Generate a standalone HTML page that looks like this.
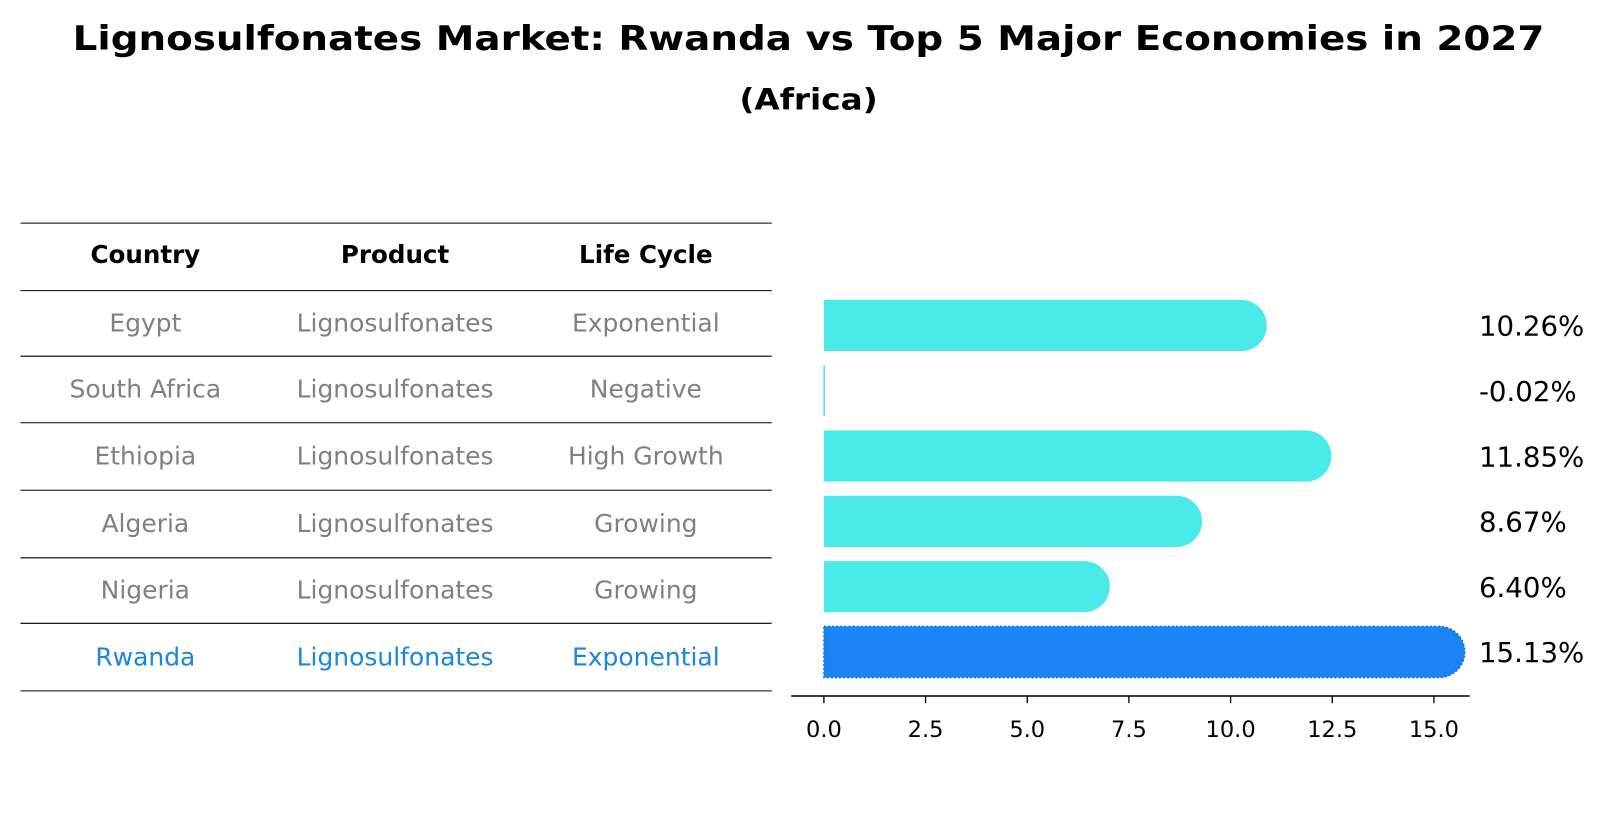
<!DOCTYPE html>
<html><head><meta charset="utf-8"><style>
body{margin:0;background:#fff;font-family:"DejaVu Sans","Liberation Sans",sans-serif;}
#wrap{position:relative;width:1604px;height:823px;overflow:hidden;}
</style></head><body>
<div id="wrap">
<svg id="svg" width="1604" height="823" xmlns="http://www.w3.org/2000/svg" font-family="DejaVu Sans, Liberation Sans, sans-serif">
<g transform="scale(1.0235)">
<text x="790" y="49" text-anchor="middle" font-size="33" font-weight="bold" textLength="1438" lengthAdjust="spacingAndGlyphs">Lignosulfonates Market: Rwanda vs Top 5 Major Economies in 2027</text>
<text x="790" y="107" text-anchor="middle" font-size="29" font-weight="bold" textLength="135" lengthAdjust="spacingAndGlyphs">(Africa)</text>
<g id="table"></g>
<g id="bars"></g>
</g>
</svg>
</div>
<script>
const countries=["Egypt","South Africa","Ethiopia","Algeria","Nigeria","Rwanda"];
const products=["Lignosulfonates","Lignosulfonates","Lignosulfonates","Lignosulfonates","Lignosulfonates","Lignosulfonates"];
const lifeCycles=["Exponential","Negative","High Growth","Growing","Growing","Exponential"];
const values=[10.26,-0.02,11.85,8.67,6.40,15.13];
const valueLabels=["10.26%","-0.02%","11.85%","8.67%","6.40%","15.13%"];
const ticks=[0,2.5,5,7.5,10,12.5,15];
const tickLabels=["0.0","2.5","5.0","7.5","10.0","12.5","15.0"];
const NS="http://www.w3.org/2000/svg";
function mk(tag,attrs,parent,text){const e=document.createElementNS(NS,tag);for(const k in attrs)e.setAttribute(k,attrs[k]);if(text!==undefined)e.textContent=text;parent.appendChild(e);return e;}
const tb=document.getElementById('table');
const lineYs=[218,284,348,413,479,545,609,675];
lineYs.forEach(y=>{const l=mk('line',{x1:20,x2:754,y1:y,y2:y,stroke:'#000','stroke-width':1},tb);

});
const colX=[142,386,631];
["Country","Product","Life Cycle"].forEach((h,i)=>{const t=mk('text',{x:colX[i],y:257,'text-anchor':'middle','font-size':24,'font-weight':'bold'},tb,h);

});
countries.forEach((c,r)=>{const y=(lineYs[r+1]+lineYs[r+2])/2+8;const col=r===5?'#1a86e0':'#808080';
[c,products[r],lifeCycles[r]].forEach((v,i)=>{const t=mk('text',{x:colX[i],y:y,'text-anchor':'middle','font-size':24.4,fill:col},tb,v);

});});
const bg=document.getElementById('bars');
const x0=805,pxPer=(1401-805)/15;
const xs=v=>x0+v*pxPer;
const rowY=r=>318+r*63.8;
const h=50;
values.forEach((v,r)=>{const cy=rowY(r);const xe=xs(Math.max(v,0));const isR=r===5;const fill=isR?'#1a84f5':'#4aeaea';
const g=mk('g',{},bg);


if(v>0.05){
mk('path',{d:`M${x0},${cy-h/2} H${xe} A${h/2},${h/2} 0 0 1 ${xe},${cy+h/2} H${x0} Z`,fill:fill,stroke:isR?'#1a6fd0':'none','stroke-width':isR?1.5:0,'stroke-dasharray':isR?'2,2':''},g);
}else{mk('rect',{x:x0-0.5,y:cy-h/2,width:1.5,height:h,fill:fill},g);}
const t=mk('text',{x:1445,y:cy+10,'font-size':27},bg,valueLabels[r]);


});
const ax=mk('line',{x1:773,x2:1436,y1:680,y2:680,stroke:'#000','stroke-width':1.5},bg);


ticks.forEach((t,i)=>{const x=xs(t);mk('line',{x1:x,x2:x,y1:680,y2:687,stroke:'#000','stroke-width':1.3},bg);
const tl=mk('text',{x:x,y:720,'text-anchor':'middle','font-size':22},bg,tickLabels[i]);

});
</script>
</body></html>
